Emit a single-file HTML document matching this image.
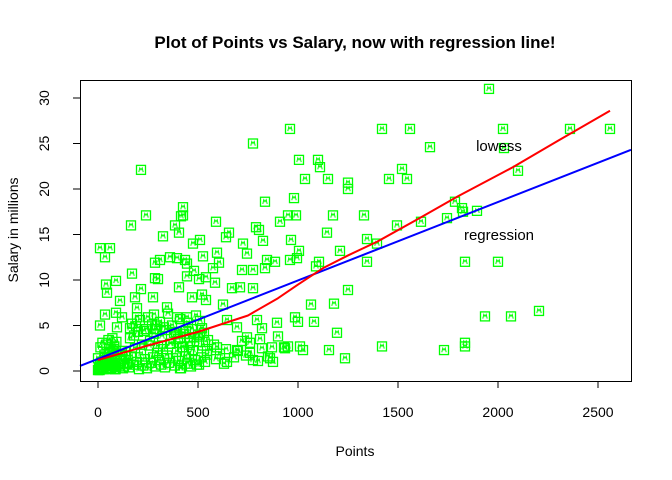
<!DOCTYPE html>
<html><head><meta charset="utf-8"><style>
body{margin:0;background:#fff}
svg{display:block;font-family:"Liberation Sans",sans-serif}
</style></head><body>
<svg id="chart" width="672" height="480" viewBox="0 0 672 480">
<rect width="672" height="480" fill="#fff"/>
<text x="355" y="48" text-anchor="middle" font-size="17" font-weight="bold">Plot of Points vs Salary, now with regression line!</text>
<text x="355" y="456" text-anchor="middle" font-size="14">Points</text>
<text transform="translate(18,230) rotate(-90)" text-anchor="middle" font-size="14">Salary in millions</text>
<g id="points"></g>
<g id="lines"></g>
<g id="axes"></g>
<rect x="80.5" y="80.5" width="551" height="301" fill="none" stroke="#000"/>
<text x="499" y="151" text-anchor="middle" font-size="15">lowess</text>
<text x="499" y="240" text-anchor="middle" font-size="15">regression</text>
</svg>
<script>
const xTicks=[0,500,1000,1500,2000,2500];
const yTicks=[0,5,10,15,20,25,30];
const regIntercept=1.33;
const regSlope=0.00862;
const lowessX=[0,250,500,750,900,1000,1125,1250,1395,1600,1800,2075,2300,2560];
const lowessY=[1.2,2.8,4.3,6.1,8.0,9.5,11.3,12.7,14.2,16.7,19.2,22.4,25.3,28.6];
const ptsX=[1955,960,1420,1560,2025,2360,2560,775,1660,2030,1005,1100,1110,215,1520,2100,1035,1150,1455,1545,1250,1250,980,835,425,425,1785,950,990,1175,1330,240,415,590,165,1615,910,385,405,790,805,1495,1745,1825,1895,1820,325,510,640,655,965,1145,1345,1395,10,60,475,725,825,1005,995,1210,35,360,395,525,595,745,960,1090,1105,1345,1835,2000,285,310,435,445,605,1250,1065,1180,1935,2065,2205,985,1000,1080,1195,1420,1835,1835,1730,1155,1235,1010,1025,935,
170,90,40,45,215,110,185,275,35,90,120,10,95,195,195,160,285,300,345,280,395,295,445,405,445,480,505,540,470,520,540,575,585,625,670,710,775,720,775,835,885,845,645,695,745,795,820,895,760,820,870,875,775,695,645,595,510,460,410,545,495,410,
0,5,10,15,20,25,30,35,40,45,50,55,60,65,70,75,80,85,90,95,100,110,120,130,140,150,0,8,18,28,38,48,58,68,78,88,98,12,22,32,42,52,62,72,82,92,5,15,25,35,45,55,65,75,85,95,105,115,125,135,145,155,165,175,185,195,205,215,225,235,245,255,265,275,285,295,305,315,325,335,345,355,365,375,385,395,405,415,425,435,445,455,465,475,485,495,505,515,525,535,545,160,180,200,220,240,260,280,300,320,340,360,380,400,420,440,460,480,500,520,170,190,210,230,250,270,290,310,330,350,370,390,410,430,450,470,490,510,530,550,580,610,640,680,720,760,800,850,900,950,590,630,700,740,810,860,930,1040,1120];
const ptsY=[31,26.6,26.6,26.6,26.6,26.6,26.6,25,24.6,24.5,23.2,23.2,22.4,22.1,22.2,22,21.1,21.1,21.1,21.1,20.7,20,19,18.6,18,17.1,18.6,17.1,17.1,17.1,17.1,17.1,17,16.4,16,16.4,16.4,16,15.2,15.8,15.5,16,16.8,17.5,17.6,17.9,14.8,14.4,14.7,15.2,14.4,15.2,14.5,14,13.5,13.5,14,14,14.3,13.2,12.4,13.2,12.5,12.5,12.4,12.6,13,12.9,12.2,11.5,12,12,12,12,11.9,12.2,12.2,11.8,11.9,8.9,7.3,7.4,6,6,6.6,5.9,5.4,5.4,4.2,2.7,3.1,2.7,2.3,2.3,1.4,2.7,2.3,2.5,
10.7,9.9,9.5,8.6,9,7.7,8.1,8.1,6.2,6.4,5.9,5,4.8,6.9,5.9,4.7,10.2,10.1,7,6.2,5.9,5,5.9,9.2,10.4,11,10.1,10.3,8.1,8.4,7.8,11.3,9.7,7.3,9.1,9.2,9.1,11.1,11.1,11.3,12,12.2,5.6,4.8,3.7,5.6,4.7,5.3,3.1,2.5,2.6,1,1.2,2.3,1,2.6,4,3.7,3.7,1.8,0.7,0.3,
0.1,0.3,0.6,0.2,1,0.4,0.8,1.5,0.2,1.2,0.5,2,0.9,0.3,1.6,0.6,2.4,1.1,0.4,1.9,0.7,1.3,2.2,0.5,1.7,0.9,1.4,0.1,0.6,0.2,0.9,0.3,0.5,1.1,0.7,0.2,0.8,2.6,3.1,1.8,2.9,3.4,2.1,3.6,2.7,3.2,0.2,0.4,0.8,1.2,0.3,0.6,1.5,0.9,0.2,1.8,0.5,1.1,0.3,2.2,0.8,0.4,1.6,0.7,2.5,1,0.2,1.9,0.6,1.3,0.3,2.8,0.9,1.5,0.5,2,1.2,0.7,2.4,0.4,1.7,0.9,3,1.4,0.6,2.1,1.1,0.3,2.6,1.6,0.8,1.9,0.5,2.3,1.2,3.2,0.7,1.5,2.8,1,2.2,3.6,3.9,4.3,2.9,4.6,3.3,4.1,2.7,3.8,4.5,3,4.2,3.5,2.6,4.4,3.1,3.7,4,4.7,5.2,4.9,5.6,4.4,5.9,5.1,4.6,5.4,4.8,6.3,5,4.3,5.7,4.1,5.3,4.6,6.1,5.5,4.2,3.4,2.9,1.9,2.4,1.5,3.3,2,1.1,1.6,3.8,2.7,1.3,0.8,2.2,1.7,3.5,1.4,2.6];
const L=80,R=631,T=80,B=381;
const sx=v=>98+v*0.2;
const sy=v=>371-v*9.1;
const NS="http://www.w3.org/2000/svg";
function mk(t,a,p){const e=document.createElementNS(NS,t);for(const k in a)e.setAttribute(k,a[k]);p.appendChild(e);return e;}
const gp=document.getElementById('points');
const n=Math.min(ptsX.length,ptsY.length);
for(let i=0;i<n;i++){
  const x=sx(ptsX[i]),y=sy(ptsY[i]);
  const g=mk('g',{},gp);
  
  
  mk('rect',{x:x-4.5,y:y-4.5,width:9,height:9,fill:'none',stroke:'#00ff00','stroke-width':1.3},g);
  mk('path',{d:`M${x-2.2},${y+2.2}L${x-1.2},${y-2}L${x},${y}L${x+1.2},${y-2}L${x+2.2},${y+2.2}`,fill:'none',stroke:'#00ff00','stroke-width':1},g);
}
const gl=document.getElementById('lines');
const x0=(L-98)/0.2,x1=(R-98)/0.2;
const reg=mk('line',{x1:sx(x0),y1:sy(regIntercept+regSlope*x0),x2:sx(x1),y2:sy(regIntercept+regSlope*x1),stroke:'#0000ff','stroke-width':2},gl);


const lw=mk('polyline',{points:lowessX.map((v,i)=>sx(v)+','+sy(lowessY[i])).join(' '),fill:'none',stroke:'#ff0000','stroke-width':2,'stroke-linejoin':'round'},gl);


const ga=document.getElementById('axes');
xTicks.forEach(v=>{
  const t=mk('line',{x1:sx(v),x2:sx(v),y1:B,y2:B+7,stroke:'#000'},ga);
  
  
  const l=mk('text',{x:sx(v),y:B+36,'text-anchor':'middle','font-size':14},ga);
  
  
  l.textContent=v;
});
mk('line',{x1:sx(0),x2:sx(2500),y1:B+0.5,y2:B+0.5,stroke:'#000'},ga);
yTicks.forEach(v=>{
  const t=mk('line',{x1:L-7,x2:L,y1:sy(v),y2:sy(v),stroke:'#000'},ga);
  
  
  const l=mk('text',{transform:`translate(${L-31},${sy(v)}) rotate(-90)`,'text-anchor':'middle','font-size':14},ga);
  
  
  l.textContent=v;
});
</script>
</body></html>
